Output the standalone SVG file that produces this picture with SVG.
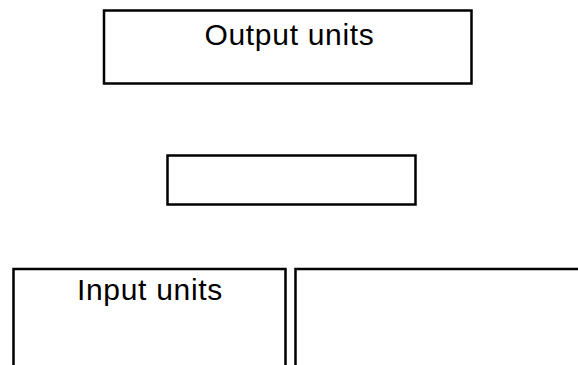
<svg xmlns="http://www.w3.org/2000/svg" width="578" height="365" viewBox="0 0 578 365">
  <style>
    .box { fill: #ffffff; stroke: #000000; stroke-width: 2.5; }
    .label { font-family: "Liberation Sans", Arial, sans-serif; font-size: 30px; letter-spacing: 0.7px; fill: #000000; text-anchor: middle; }
  </style>
  <rect width="578" height="365" fill="#ffffff"/>
  <g id="output-units">
    <rect class="box" x="104" y="10.5" width="367.5" height="73"/>
    <text class="label" x="289.5" y="45">Output units</text>
  </g>
  <g id="hidden-units">
    <rect class="box" x="167.5" y="155.5" width="248" height="49"/>
  </g>
  <g id="input-units">
    <rect class="box" x="13.5" y="269" width="272" height="120"/>
    <text class="label" x="150" y="300">Input units</text>
  </g>
  <g id="right-units">
    <rect class="box" x="295.5" y="269" width="300" height="120"/>
  </g>
  <g id="connectors"></g>
</svg>
